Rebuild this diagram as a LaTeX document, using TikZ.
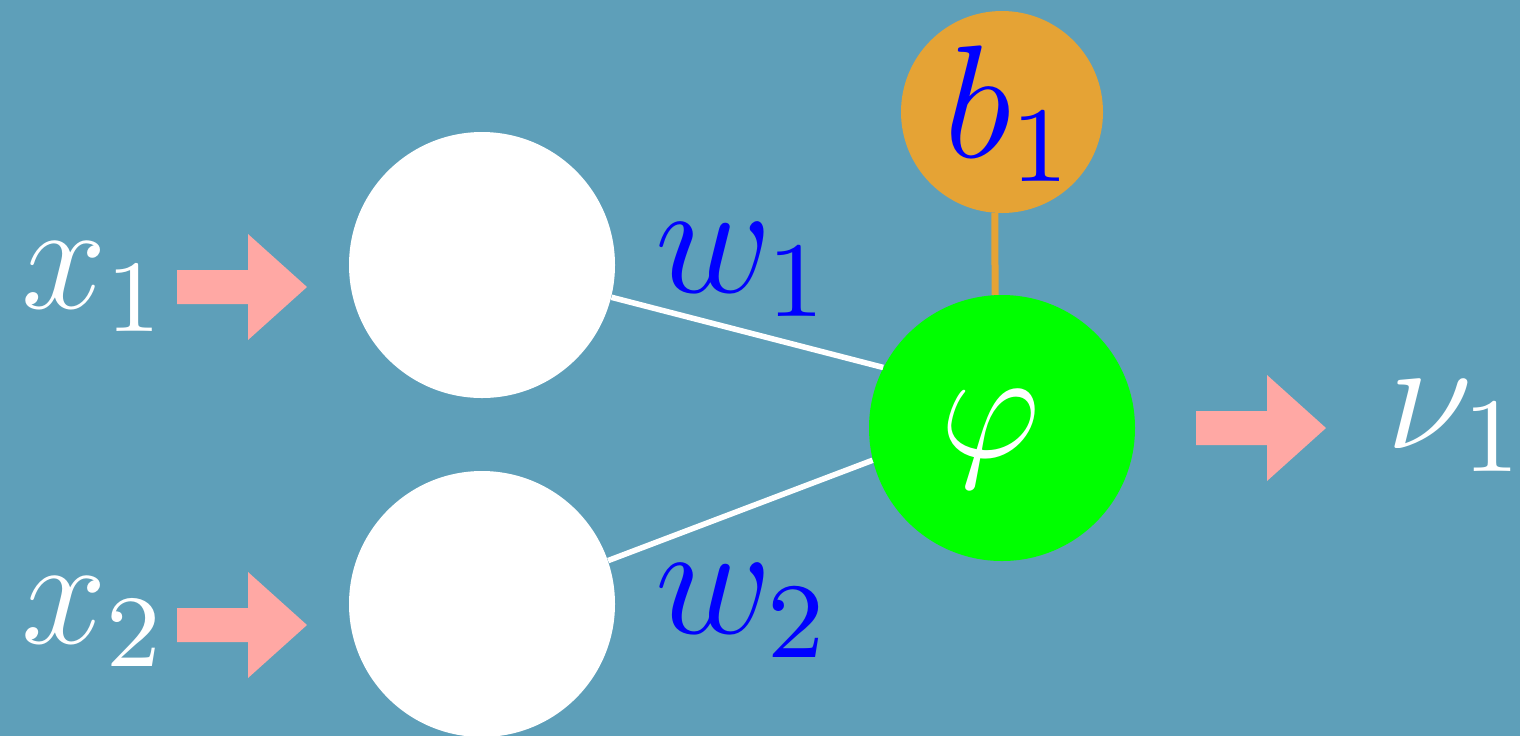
\documentclass[tikz,border=0pt]{standalone}
\begin{document}
\definecolor{bgc}{RGB}{94,159,185}
\definecolor{pinkc}{RGB}{255,168,164}
\definecolor{orangec}{RGB}{229,163,53}
\definecolor{greenc}{RGB}{0,255,0}
\definecolor{bluec}{RGB}{0,0,255}
\newcommand{\hugemath}[2]{\scalebox{#1}{\fontsize{12}{14}\selectfont$#2$}}
\begin{tikzpicture}[x=0.5pt,y=-0.5pt,
  neuron/.style={circle,fill=white,inner sep=0pt,minimum size=133pt},
  outneuron/.style={circle,fill=greenc,inner sep=0pt,minimum size=133pt},
  biasnode/.style={circle,fill=orangec,inner sep=0pt,minimum size=101pt},
  lbl/.style={inner sep=0pt,anchor=base west},
  edge/.style={draw=white,line width=2.8pt},
  blockarrow/.style={fill=pinkc}]
\fill[bgc] (0,0) rectangle (1520,736);
\useasboundingbox (0,0) rectangle (1520,736);
% neurons
\node[neuron] (in1) at (482,265) {};
\node[neuron] (in2) at (482,604) {};
\node[outneuron] (out) at (1002,428) {};
\node[biasnode] (bias) at (1002,112) {};
% connectors
\draw[edge] (in1.-14.5) -- (out.153);
\draw[edge] (in2.19.7) -- (out.194.8);
\draw[draw=orangec,line width=3.5pt] (bias.-94) -- (out.93);
% labels
\node[lbl,text=white] (x1) at (21,308) {\hugemath{6.4}{x_1}};
\node[lbl,text=white] (x2) at (21,643) {\hugemath{6.4}{x_2}};
\node[lbl,text=bluec] (w1) at (655,292) {\hugemath{6.7}{w_1}};
\node[lbl,text=bluec] (w2) at (655,633) {\hugemath{6.7}{w_2}};
\node[lbl,text=bluec] (b1) at (944,157) {\hugemath{6.7}{b_1}};
\node[inner sep=0pt,text=white] (phi) at (991,439) {\hugemath{6.5}{\varphi}};
\node[lbl,text=white] (nu1) at (1386,448) {\hugemath{6.6}{\nu_1}};
% block arrows
\coordinate (t1) at (307,287);
\coordinate (t2) at (307,625);
\coordinate (t3) at (1326,428);
\foreach \t in {t1,t2,t3}{
  \fill[blockarrow] (\t) -- ++(-59,-53) -- ++(0,36) -- ++(-71,0) -- ++(0,34) -- ++(71,0) -- ++(0,36) -- cycle;
}
\end{tikzpicture}
\end{document}
